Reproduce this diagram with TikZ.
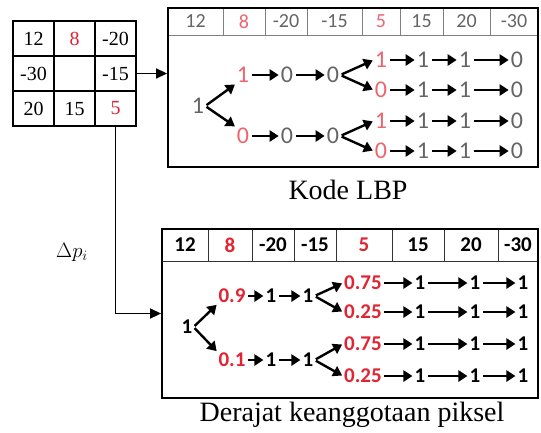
\documentclass[tikz,border=0pt]{standalone}
\usepackage{fontspec}
\setmainfont{Liberation Serif}
\newfontfamily\calfont{Carlito}
\usetikzlibrary{arrows.meta}
\definecolor{numred}{RGB}{225,35,50}
\definecolor{lightred}{RGB}{238,100,110}
\definecolor{numgrey}{RGB}{100,100,100}
\begin{document}
\begin{tikzpicture}[x=1pt,y=-1pt,
  cell/.style={draw,line width=1.5pt,minimum width=41pt,minimum height=35pt,inner sep=0pt,font=\fontsize{20}{20}\selectfont},
  hcell/.style={draw=gray,line width=0.9pt,inner sep=0pt,font=\calfont\fontsize{20}{20}\selectfont,text=numgrey},
  bhcell/.style={draw=black!80,line width=0.9pt,inner sep=0pt,font=\calfont\bfseries\fontsize{21}{21}\selectfont,text=black},
  tn/.style={inner sep=1pt,font=\calfont\fontsize{24}{24}\selectfont,text=numgrey},
  bn/.style={inner sep=1pt,font=\calfont\bfseries\fontsize{21}{21}\selectfont,text=black},
  arr/.style={line width=2.4pt,shorten <=1.5pt,shorten >=1pt,-{Triangle[length=9pt,width=11pt]}},
  box/.style={draw,line width=1.8pt,inner sep=0pt},
  captext/.style={font=\fontsize{28}{28}\selectfont},
  link/.style={line width=1.5pt,-{Triangle[length=11pt,width=10pt]}},
]
\useasboundingbox (0,0) rectangle (541,432);

% 3x3 grid
\node[cell] (g11) at (33.5,38.5) {12};
\node[cell,text=numred] (g12) at (74.5,38.5) {8};
\node[cell] (g13) at (115.5,38.5) {-20};
\node[cell] (g21) at (33.5,73.5) {-30};
\node[cell] (g22) at (74.5,73.5) {};
\node[cell] (g23) at (115.5,73.5) {-15};
\node[cell] (g31) at (33.5,108.5) {20};
\node[cell] (g32) at (74.5,108.5) {15};
\node[cell,text=numred] (g33) at (115.5,108.5) {5};

% top box (Kode LBP)
\node[box,minimum width=370pt,minimum height=159pt] (lbp) at (353,87.5) {};
\foreach \a/\b/\t/\c [count=\i] in {168/223/12/numgrey,223/265/8/lightred,265/307/-20/numgrey,307/362/-15/numgrey,362/400/5/lightred,400/443/15/numgrey,443/490/20/numgrey,490/538/-30/numgrey}
  \node[hcell,text=\c,minimum width={(\b-\a)*1pt},minimum height=27pt] (th\i) at ({(\a+\b)/2},21.5) {\t};
\node[box,minimum width=370pt,minimum height=159pt] at (lbp.center) {};
\node[captext] (cap1) at (348,190) {Kode LBP};

% top tree
\node[tn] (T0) at (198,106) {1};
\node[tn,text=lightred] (TU1) at (243,75) {1};
\node[tn] (TU2) at (287,75) {0};
\node[tn] (TU3) at (333,75) {0};
\node[tn,text=lightred] (TL1) at (243,136) {0};
\node[tn] (TL2) at (287,136) {0};
\node[tn] (TL3) at (333,136) {0};
\foreach \r/\y/\f/\v in {1/60/1/0,2/90/0/0,3/121/1/0,4/151/0/0}{
  \node[tn,text=lightred] (S\r1) at (381,\y) {\f};
  \node[tn] (S\r2) at (423,\y) {1};
  \node[tn] (S\r3) at (465,\y) {1};
  \node[tn] (S\r4) at (517,\y) {\v};
  \draw[arr] (S\r1.east) -- (S\r2.west);
  \draw[arr] (S\r2.east) -- (S\r3.west);
  \draw[arr] (S\r3.east) -- (S\r4.west);
}
\draw[arr] (T0.east) -- (TU1.south west);
\draw[arr] (T0.east) -- (TL1.north west);
\draw[arr] (TU1.east) -- (TU2.west);
\draw[arr] (TU2.east) -- (TU3.west);
\draw[arr] (TL1.east) -- (TL2.west);
\draw[arr] (TL2.east) -- (TL3.west);
\draw[arr] (TU3.east) -- (S11.west);
\draw[arr] (TU3.east) -- (S21.west);
\draw[arr] (TL3.east) -- (S31.west);
\draw[arr] (TL3.east) -- (S41.west);

% bottom box (Derajat keanggotaan piksel)
\node[box,minimum width=376pt,minimum height=169pt] (bot) at (350,313.5) {};
\foreach \a/\b/\t/\c [count=\i] in {162/208/12/black,208/252/8/numred,252/294/-20/black,294/336/-15/black,336/392/5/numred,392/444/15/black,444/498/20/black,498/538/-30/black}
  \node[bhcell,text=\c,minimum width={(\b-\a)*1pt},minimum height=32pt] (bh\i) at ({(\a+\b)/2},245) {\t};
\node[box,minimum width=376pt,minimum height=169pt] at (bot.center) {};
\node[captext] (cap2) at (352,415) {Derajat keanggotaan piksel};

% bottom tree
\node[bn] (B0) at (187,327) {1};
\node[bn,text=numred] (BU1) at (232,296) {0.9};
\node[bn] (BU2) at (271,296) {1};
\node[bn] (BU3) at (308,296) {1};
\node[bn,text=numred] (BL1) at (232,360) {0.1};
\node[bn] (BL2) at (271,360) {1};
\node[bn] (BL3) at (308,360) {1};
\foreach \r/\y/\f in {1/283/0.75,2/312/0.25,3/344/0.75,4/376/0.25}{
  \node[bn,text=numred] (R\r1) at (363,\y) {\f};
  \node[bn] (R\r2) at (420,\y) {1};
  \node[bn] (R\r3) at (475,\y) {1};
  \node[bn] (R\r4) at (523,\y) {1};
  \draw[arr] (R\r1.east) -- (R\r2.west);
  \draw[arr] (R\r2.east) -- (R\r3.west);
  \draw[arr] (R\r3.east) -- (R\r4.west);
}
\draw[arr] (B0.east) -- (BU1.south west);
\draw[arr] (B0.east) -- (BL1.north west);
\draw[arr] (BU1.east) -- (BU2.west);
\draw[arr] (BU2.east) -- (BU3.west);
\draw[arr] (BL1.east) -- (BL2.west);
\draw[arr] (BL2.east) -- (BL3.west);
\draw[arr] (BU3.east) -- (R11.west);
\draw[arr] (BU3.east) -- (R21.west);
\draw[arr] (BL3.east) -- (R31.west);
\draw[arr] (BL3.east) -- (R41.west);

% connectors from grid
\draw[link] (g23.east) -- (g23.east -| lbp.west);
\draw[link] (g33.south) |- (bot.west);
\node[font=\fontsize{22}{22}\selectfont] (dp) at (72,252) {$\Delta p_i$};
\end{tikzpicture}
\end{document}
